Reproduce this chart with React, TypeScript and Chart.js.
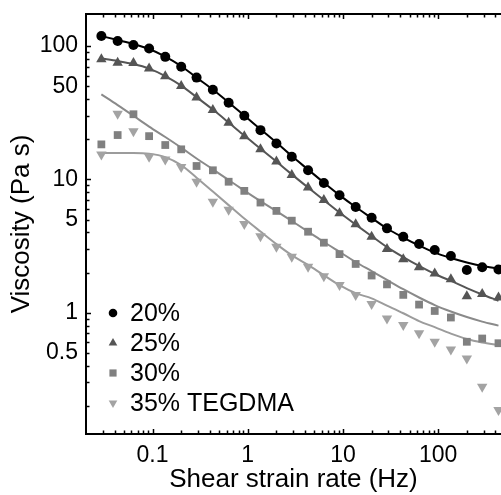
import React, { useEffect, useRef } from 'react';
import { Chart, registerables } from 'chart.js';

Chart.register(...registerables);

// Shear strain rate (Hz)
const shearRate = [0.029, 0.043, 0.063, 0.092, 0.136, 0.2, 0.29, 0.43, 0.63, 0.92, 1.36, 2.0, 2.9, 4.3, 6.3, 9.2, 13.6, 20, 29, 43, 63, 92, 136, 200, 290, 430];

// Measured viscosity (Pa s)
const visc20 = [119, 109, 102, 96, 83, 70, 58, 47, 37.6, 30, 23.4, 18.6, 14.8, 11.7, 9.4, 7.6, 6.2, 5.15, 4.29, 3.71, 3.27, 2.95, 2.66, 2.09, 2.19, 2.11];
const visc25 = [79.5, 75, 74.6, 67.8, 59.3, 50.1, 41.2, 33.1, 26.6, 21.1, 16.8, 13.6, 10.8, 8.7, 7.0, 5.56, 4.6, 3.71, 3.0, 2.52, 2.19, 1.97, 1.78, 1.33, 1.38, 1.3];
const visc30 = [18.3, 21.5, 30.8, 21.1, 18.1, 16.8, 12.6, 11.7, 9.6, 8.2, 6.7, 5.8, 4.9, 4.05, 3.35, 2.75, 2.32, 1.9, 1.63, 1.36, 1.15, 1.03, 0.92, 0.605, 0.64, 0.59];
const visc35 = [15.4, 31.0, 23.0, 14.8, 14.1, 12.4, 9.6, 6.8, 5.93, 4.62, 3.75, 3.12, 2.63, 2.21, 1.88, 1.61, 1.36, 1.16, 0.906, 0.807, 0.7, 0.605, 0.53, 0.454, 0.278, 0.186];

// Fitted curves (Pa s)
const fit20 = [118.9, 110.9, 103.5, 95.0, 83.4, 70.8, 58.0, 47.2, 37.7, 30.1, 23.8, 18.9, 14.95, 11.85, 9.46, 7.62, 6.2, 5.13, 4.28, 3.66, 3.19, 2.82, 2.57, 2.38, 2.24, 2.14];
const fit25 = [80.6, 77.2, 73.3, 67.8, 59.6, 50.5, 41.4, 33.4, 26.7, 21.3, 17.0, 13.6, 10.9, 8.68, 6.99, 5.64, 4.58, 3.75, 3.1, 2.61, 2.24, 1.95, 1.73, 1.53, 1.37, 1.23];
const fit30 = [43.4, 36.1, 30.0, 24.9, 20.8, 17.3, 14.35, 11.9, 9.9, 8.24, 6.87, 5.78, 4.87, 4.06, 3.39, 2.86, 2.4, 2.05, 1.76, 1.5, 1.3, 1.14, 1.02, 0.927, 0.857, 0.8];
const fit35 = [15.8, 15.8, 15.8, 15.6, 14.7, 12.8, 10.3, 8.1, 6.41, 5.08, 4.06, 3.27, 2.7, 2.28, 1.91, 1.61, 1.4, 1.28, 1.13, 0.99, 0.865, 0.78, 0.697, 0.634, 0.597, 0.571];

const seriesLabels = ['20%', '25%', '30%', '35% TEGDMA'];
const xTickValues = [0.1, 1, 10, 100];
const yTickValues = [0.5, 1, 5, 10, 50, 100];

const FONT = "'Liberation Sans', Arial, Helvetica, sans-serif";
const markerColors = ['#000000', '#555555', '#808080', '#a3a3a3'];
const lineColors = ['#000000', '#555555', '#8a8a8a', '#9c9c9c'];
const markerStyles = ['circle', 'triangle', 'rect', 'triangle'];
const markerRot = [0, 0, 0, 180];
const markerRadius = [5, 6, 5.5, 6];

function toPoints(xs: number[], ys: number[]) {
  return xs.map((x, i) => ({ x, y: ys[i] }));
}

function drawLegendMarker(ctx: CanvasRenderingContext2D, style: number, x: number, y: number, color: string) {
  ctx.save();
  ctx.fillStyle = color;
  ctx.beginPath();
  if (style === 0) {
    ctx.arc(x, y, 4.3, 0, Math.PI * 2);
  } else if (style === 1) {
    const r = 5;
    ctx.moveTo(x, y - r);
    ctx.lineTo(x + r * 0.866, y + r * 0.5);
    ctx.lineTo(x - r * 0.866, y + r * 0.5);
    ctx.closePath();
  } else if (style === 2) {
    ctx.rect(x - 3.6, y - 3.6, 7.2, 7.2);
  } else {
    const r = 5;
    ctx.moveTo(x, y + r);
    ctx.lineTo(x + r * 0.866, y - r * 0.5);
    ctx.lineTo(x - r * 0.866, y - r * 0.5);
    ctx.closePath();
  }
  ctx.fill();
  ctx.restore();
}

const framePlugin = {
  id: 'frameTicks',
  afterDraw(chart: any) {
    const { ctx, chartArea } = chart;
    const xs = chart.scales.x;
    const ys = chart.scales.y;
    ctx.save();
    ctx.strokeStyle = '#000';
    // top border
    ctx.lineWidth = 2;
    ctx.beginPath();
    ctx.moveTo(chartArea.left - 1, chartArea.top);
    ctx.lineTo(chartArea.right + 2, chartArea.top);
    ctx.stroke();
    ctx.lineWidth = 1.5;
    const decades = [0.01, 0.1, 1, 10, 100, 1000];
    for (const d of decades) {
      for (let m = 1; m <= 9; m++) {
        const v = d * m;
        if (v > xs.min && v <= xs.max) {
          const px = Math.round(xs.getPixelForValue(v)) + 0.5;
          const len = m === 1 ? 5 : 3.5;
          ctx.beginPath();
          ctx.moveTo(px, chartArea.bottom);
          ctx.lineTo(px, chartArea.bottom - len);
          ctx.moveTo(px, chartArea.top);
          ctx.lineTo(px, chartArea.top + len);
          ctx.stroke();
        }
        if (v > ys.min && v < ys.max) {
          const py = Math.round(ys.getPixelForValue(v)) + 0.5;
          const len = m === 1 ? 5 : 3.5;
          ctx.beginPath();
          ctx.moveTo(chartArea.left, py);
          ctx.lineTo(chartArea.left + len, py);
          ctx.stroke();
        }
      }
    }
    // legend
    ctx.font = `25px ${FONT}`;
    ctx.textBaseline = 'middle';
    ctx.textAlign = 'left';
    ctx.fillStyle = '#000';
    const rowY = [chartArea.bottom - 121, chartArea.bottom - 91, chartArea.bottom - 61, chartArea.bottom - 31];
    seriesLabels.forEach((lab, i) => {
      drawLegendMarker(ctx, i, chartArea.left + 27, rowY[i], markerColors[i]);
      ctx.fillStyle = '#000';
      ctx.fillText(lab, chartArea.left + 44, rowY[i] + 1);
    });
    ctx.restore();
  },
};

function zeroPad(s: any) {
  s.paddingTop = 0;
  s.paddingBottom = 0;
  s.paddingLeft = 0;
  s.paddingRight = 0;
}

export default function App() {
  const ref = useRef<HTMLCanvasElement | null>(null);
  useEffect(() => {
    if (!ref.current) return;
    const measured = [visc20, visc25, visc30, visc35];
    const fits = [fit20, fit25, fit30, fit35];
    const pointSets = measured.map((ys, i) => ({
      label: seriesLabels[i],
      data: toPoints(shearRate, ys),
      showLine: false,
      pointStyle: markerStyles[i],
      pointRotation: markerRot[i],
      pointRadius: markerRadius[i],
      pointBackgroundColor: markerColors[i],
      pointBorderWidth: 0,
      borderColor: markerColors[i],
      backgroundColor: markerColors[i],
      order: 1,
    }));
    const lineSets = fits.map((ys, i) => ({
      label: seriesLabels[i] + ' fit',
      data: toPoints(shearRate, ys),
      showLine: true,
      pointRadius: 0,
      borderColor: lineColors[i],
      borderWidth: 2,
      cubicInterpolationMode: 'monotone',
      order: 2,
    }));
    const chart = new Chart(ref.current, {
      type: 'scatter',
      data: { datasets: [...pointSets, ...lineSets] as any },
      options: {
        animation: false,
        responsive: false,
        maintainAspectRatio: false,
        layout: { autoPadding: false, padding: { top: 14, right: 0, left: 0, bottom: 0 } },
        plugins: { legend: { display: false }, tooltip: { enabled: false } },
        scales: {
          x: {
            type: 'logarithmic',
            bounds: 'data',
            min: 0.02,
            max: 457,
            afterFit: (s: any) => { s.height = 61; zeroPad(s); },
            afterBuildTicks: (s: any) => { s.ticks = xTickValues.map((v) => ({ value: v })); },
            grid: { display: false, drawTicks: false },
            border: { display: true, color: '#000', width: 2 },
            ticks: {
              autoSkip: false,
              maxRotation: 0,
              padding: 8,
              color: '#000',
              font: { family: FONT, size: 23 },
              callback: (v: any) => String(v),
            },
            title: {
              display: true,
              text: 'Shear strain rate (Hz)',
              color: '#000',
              font: { family: FONT, size: 26 },
              padding: { top: 0, bottom: 0 },
            },
          },
          y: {
            type: 'logarithmic',
            bounds: 'data',
            min: 0.123,
            max: 174,
            afterFit: (s: any) => { s.width = 86; zeroPad(s); },
            afterBuildTicks: (s: any) => { s.ticks = yTickValues.map((v) => ({ value: v })); },
            grid: { display: false, drawTicks: false },
            border: { display: true, color: '#000', width: 2 },
            ticks: {
              autoSkip: false,
              padding: 8,
              color: '#000',
              font: { family: FONT, size: 23 },
              callback: (v: any) => String(v),
            },
            title: {
              display: true,
              text: 'Viscosity (Pa s)',
              color: '#000',
              font: { family: FONT, size: 26 },
              padding: { top: 6, bottom: 0 },
            },
          },
        },
      },
      plugins: [framePlugin],
    });
    return () => chart.destroy();
  }, []);
  return (
    <div style={{ position: 'absolute', left: 0, top: 0, width: 501, height: 495, background: '#fff' }}>
      <canvas ref={ref} width={501} height={495} style={{ display: 'block', width: 501, height: 495 }} />
    </div>
  );
}
